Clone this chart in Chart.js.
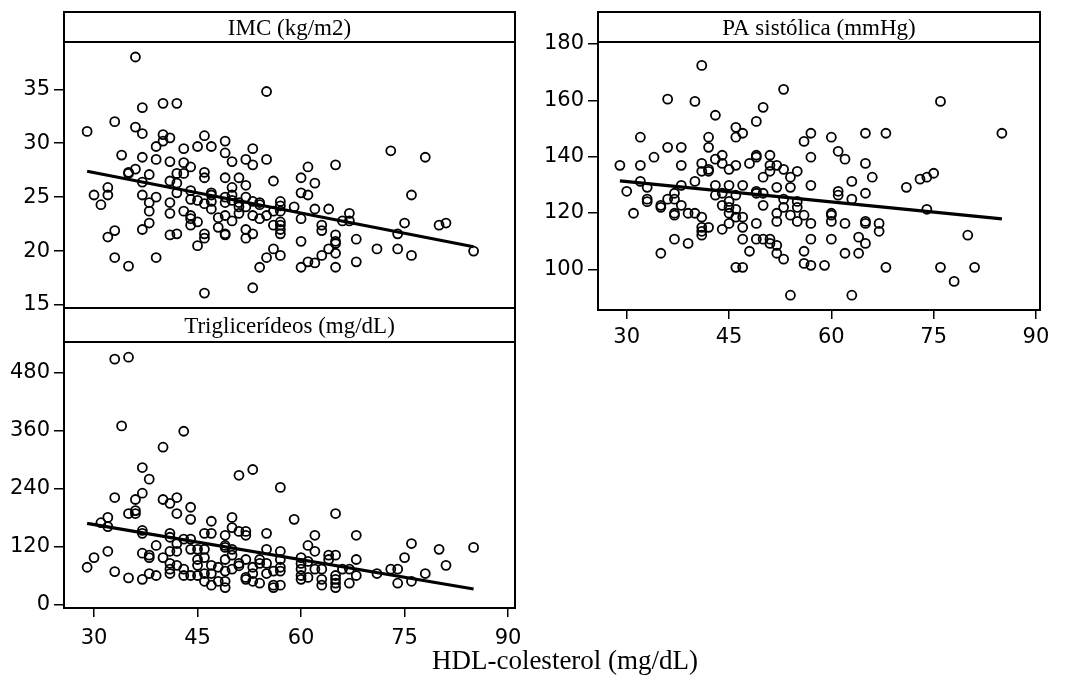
<!DOCTYPE html>
<html>
<head>
<meta charset="utf-8">
<script src="https://cdn.jsdelivr.net/npm/chart.js@4.4.0/dist/chart.umd.min.js"></script>
<style>
  body { margin: 0; background: #fff; }
  #wrap { position: relative; width: 1066px; height: 684px; }
  canvas { position: absolute; left: 0; top: 0; }
</style>
</head>
<body>
<div id="wrap">
  <canvas id="imc" width="1066" height="684"></canvas>
  <canvas id="pa" width="1066" height="684"></canvas>
  <canvas id="tg" width="1066" height="684"></canvas>
</div>
<script>
// eixos
const hdlTicks = [30, 45, 60, 75, 90];
const imcTicks = [15, 20, 25, 30, 35];
const paTicks = [100, 120, 140, 160, 180];
const tgTicks = [0, 120, 240, 360, 480];

// IMC x HDL
const imcHdl = [29,30,31,32,32,32,33,33,33,34,35,35,35,36,36,36,37,37,37,37,37,37,38,38,38,38,39,39,39,39,
  40,40,40,41,41,41,41,41,41,42,42,42,42,42,43,43,43,43,44,44,44,44,44,44,45,45,45,45,46,46,46,46,46,46,46,
  47,47,47,47,47,48,48,49,49,49,49,49,49,49,49,50,50,50,50,50,51,51,51,51,52,52,52,52,52,52,
  53,53,53,53,53,53,54,54,54,54,55,55,55,55,56,56,56,56,57,57,57,57,57,57,57,57,59,60,60,60,60,60,
  61,61,61,62,62,62,63,63,63,64,64,65,65,65,65,65,65,66,67,67,68,68,71,73,74,74,75,76,76,78,80,81,85];
const imcVals = [31.1,25.2,24.3,25.9,25.2,21.3,32.0,21.9,19.4,28.9,27.3,27.2,18.6,38.0,31.5,27.6,33.3,30.9,28.7,26.4,25.2,22.0,27.1,24.5,23.7,22.6,29.7,28.5,25.0,19.4,
  33.7,30.8,30.2,30.5,28.3,26.5,24.5,23.5,21.5,33.7,27.2,26.3,25.4,21.6,29.5,28.2,27.2,23.7,27.8,25.6,24.8,23.3,23.0,22.4,29.7,24.7,22.7,20.5,30.7,27.3,26.8,24.4,21.6,21.2,16.1,
  29.7,25.4,25.2,24.6,23.9,23.1,22.2,30.2,29.1,26.8,25.0,24.5,23.3,21.6,21.5,28.3,25.9,25.2,24.7,22.8,26.8,24.5,24.1,23.5,28.5,26.1,25.0,24.1,22.0,21.2,
  29.5,28.0,24.6,23.3,21.6,16.6,24.5,24.3,23.0,18.5,34.8,28.5,23.3,19.4,26.5,23.7,22.4,20.2,24.6,24.2,23.7,22.7,22.4,22.0,21.6,19.6,24.1,26.8,25.4,23.0,20.9,18.5,
  27.8,25.2,19.0,26.3,23.9,18.9,22.4,21.9,19.6,23.9,20.2,28.0,21.5,20.7,19.8,18.5,20.9,22.8,23.5,22.8,21.1,19.0,20.2,29.3,21.6,20.2,22.6,25.2,19.6,28.7,22.4,22.6,20.0];
const imcFitX = [29, 85];
const imcFitY = [27.4, 20.4];

// PA sistólica x HDL
const paHdl = [29,30,31,32,32,32,33,33,33,34,35,35,35,36,36,36,37,37,37,37,37,38,38,38,38,39,39,40,40,40,
  41,41,41,41,41,41,41,42,42,42,42,42,43,43,43,43,44,44,44,44,44,45,45,45,45,45,45,46,46,46,46,46,46,46,
  47,47,47,47,47,47,48,48,49,49,49,49,49,49,49,50,50,50,50,50,51,51,51,51,51,52,52,52,52,52,52,
  53,53,53,53,53,54,54,54,54,55,55,55,55,56,56,56,56,57,57,57,57,57,57,59,60,60,60,60,60,
  61,61,61,62,62,62,63,63,63,64,64,65,65,65,65,65,65,66,67,67,68,68,71,73,74,74,75,76,76,78,80,81,85];
const paVals = [136.9,127.7,119.9,146.9,136.9,131.2,129.1,124.9,124.0,139.8,122.7,122.0,105.7,160.4,143.3,124.9,127.0,124.9,119.9,119.2,110.7,143.3,136.9,129.8,122.7,119.9,109.2,159.6,131.2,119.9,
  172.4,137.6,134.8,118.5,114.9,113.5,112.1,146.9,143.3,135.5,134.8,114.9,154.7,139.1,129.8,126.3,140.5,137.6,127.0,122.7,114.2,135.5,129.8,124.1,122.0,119.9,116.3,150.4,146.9,136.9,126.3,121.3,118.5,100.7,
  148.3,129.8,118.5,114.9,110.7,100.7,137.6,106.4,152.5,140.5,139.8,127.7,127.0,116.3,110.7,157.5,132.7,127.0,122.7,110.7,140.5,136.9,134.8,110.7,109.2,136.9,129.1,119.9,117.0,108.5,105.7,
  163.9,135.5,124.9,122.0,103.6,132.7,129.1,119.2,90.8,134.8,124.1,122.0,117.0,145.4,119.2,106.4,102.1,148.3,139.8,129.8,116.3,110.7,101.4,101.4,146.9,119.9,119.2,117.0,110.7,
  141.9,127.7,126.3,139.1,116.3,105.7,131.2,124.9,90.8,111.4,105.7,148.3,137.6,127.0,117.0,116.3,109.2,132.7,116.3,113.5,148.3,100.7,129.1,132.0,132.7,121.3,134.1,159.6,100.7,95.7,112.1,100.7,148.3];
const paFitX = [29, 85];
const paFitY = [131.4, 117.9];

// Triglicerídeos x HDL
const tgHdl = [29,30,31,32,32,32,33,33,33,34,35,35,35,36,36,36,37,37,37,37,37,37,38,38,38,38,39,39,40,40,40,
  41,41,41,41,41,41,41,42,42,42,42,42,43,43,43,43,44,44,44,44,44,45,45,45,45,46,46,46,46,46,
  47,47,47,47,47,48,48,49,49,49,49,49,49,49,50,50,50,50,50,51,51,51,51,52,52,52,52,52,
  53,53,53,53,54,54,54,55,55,55,55,56,56,56,57,57,57,57,57,57,59,60,60,60,60,60,
  61,61,61,62,62,62,63,63,63,64,64,65,65,65,65,65,65,66,67,67,68,68,68,71,73,74,74,75,76,76,78,80,81,85];
const tgVals = [78,98,170,181,162,111,508,222,69,370,512,189,56,218,195,189,284,231,154,148,107,53,260,103,98,65,123,61,326,218,98,
  210,148,140,111,86,74,65,222,189,127,111,82,359,136,74,61,202,177,136,115,61,115,94,82,61,148,115,98,65,49,
  173,148,82,65,41,78,49,144,123,119,94,70,49,36,181,160,115,103,74,268,152,86,81,152,144,94,57,53,
  280,78,65,49,94,86,45,148,115,86,65,70,41,36,243,111,94,78,70,41,177,98,86,74,61,53,
  123,90,57,144,111,74,74,53,41,103,94,189,103,61,53,45,36,74,74,45,144,94,61,65,74,74,45,98,127,49,65,115,82,119];
const tgFitX = [29, 85];
const tgFitY = [168.7, 33];

const pares = (xs, ys) => xs.map((x, i) => ({ x: x, y: ys[i] }));

// moldura, cabeçalho do painel e título do eixo x
const painel = {
  id: 'painel',
  afterDraw(chart, args, opts) {
    const ctx = chart.ctx;
    const a = chart.chartArea;
    ctx.save();
    ctx.strokeStyle = '#000';
    ctx.lineWidth = 2;
    ctx.strokeRect(a.left, a.top, a.right - a.left, a.bottom - a.top);
    ctx.strokeRect(a.left, opts.topo, a.right - a.left, a.top - opts.topo);
    ctx.fillStyle = '#000';
    ctx.textAlign = 'center';
    ctx.textBaseline = 'alphabetic';
    ctx.font = '23px "Liberation Serif"';
    ctx.fillText(opts.titulo, (a.left + a.right) / 2, opts.base);
    if (opts.eixo) {
      ctx.font = '27px "Liberation Serif"';
      ctx.fillText(opts.eixo, 565, 669);
    }
    ctx.restore();
  }
};

const fonteTick = { family: 'DejaVu Sans', size: 21 };

function desenha(id, pts, fit, c) {
  const xScale = {
    type: 'linear',
    min: c.xmin, max: c.xmax,
    display: c.mostraX,
    afterBuildTicks: s => { s.ticks = hdlTicks.map(v => ({ value: v })); },
    grid: { drawOnChartArea: false, tickLength: 9, color: '#000', lineWidth: 1.5 },
    border: { display: false },
    ticks: { color: '#000', font: fonteTick, padding: c.xPad || 6, maxRotation: 0, autoSkip: false }
  };
  if (c.mostraX) xScale.afterFit = s => { s.height = 60; };

  new Chart(document.getElementById(id), {
    type: 'scatter',
    data: {
      datasets: [
        { data: pts, pointRadius: 4.5, pointHoverRadius: 4.5, borderColor: '#000',
          backgroundColor: 'rgba(0,0,0,0)', borderWidth: 1.8 },
        { data: fit, showLine: true, pointRadius: 0, borderColor: '#000', borderWidth: 3.2 }
      ]
    },
    options: {
      responsive: false,
      animation: false,
      events: [],
      layout: { padding: c.pad },
      plugins: {
        legend: { display: false },
        tooltip: { enabled: false },
        painel: { titulo: c.titulo, topo: c.topo, base: c.base, eixo: c.eixo }
      },
      scales: {
        x: xScale,
        y: {
          type: 'linear',
          min: c.ymin, max: c.ymax,
          afterBuildTicks: s => { s.ticks = c.yTicks.map(v => ({ value: v })); },
          afterFit: s => { s.width = 64; },
          grid: { drawOnChartArea: false, tickLength: 10, color: '#000', lineWidth: 1.5 },
          border: { display: false },
          ticks: { color: '#000', font: fonteTick, padding: 4, autoSkip: false }
        }
      }
    },
    plugins: [painel]
  });
}

desenha('imc', pares(imcHdl, imcVals), pares(imcFitX, imcFitY), {
  titulo: 'IMC (kg/m2)', topo: 12, base: 34.5, mostraX: false,
  xmin: 25.65, xmax: 91.0, ymin: 14.72, ymax: 39.39, yTicks: imcTicks,
  pad: { left: 0, top: 42, right: 551, bottom: 376 }
});

desenha('pa', pares(paHdl, paVals), pares(paFitX, paFitY), {
  titulo: 'PA sistólica (mmHg)', topo: 12, base: 34.5, mostraX: true, xPad: 6,
  xmin: 25.79, xmax: 90.59, ymin: 85.55, ymax: 180.7, yTicks: paTicks,
  pad: { left: 534, top: 42, right: 26, bottom: 314 }
});

desenha('tg', pares(tgHdl, tgVals), pares(tgFitX, tgFitY), {
  titulo: 'Triglicerídeos (mg/dL)', topo: 308, base: 333, mostraX: true, xPad: 9,
  eixo: 'HDL-colesterol (mg/dL)',
  xmin: 25.65, xmax: 91.0, ymin: -6.2, ymax: 543.4, yTicks: tgTicks,
  pad: { left: 0, top: 342, right: 551, bottom: 16 }
});
</script>
</body>
</html>
